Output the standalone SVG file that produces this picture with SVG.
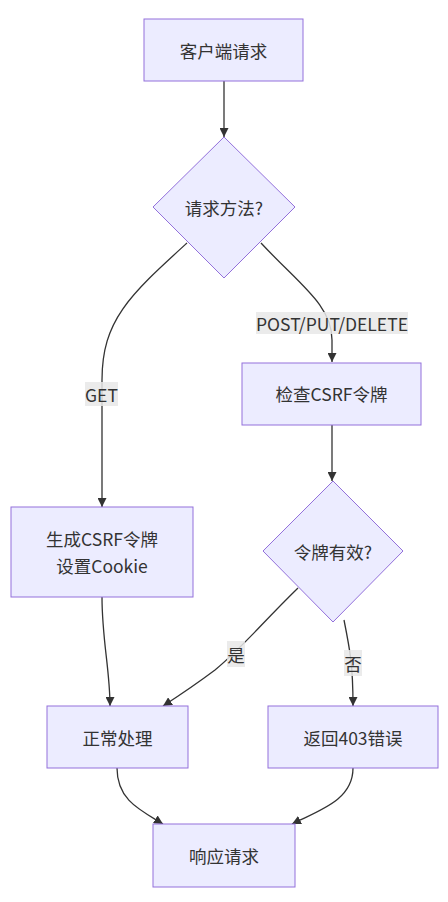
<svg xmlns="http://www.w3.org/2000/svg" width="448" height="902" viewBox="0 0 448 902">
<style>
.node rect,.node polygon{fill:#ECECFF;stroke:#9370DB;stroke-width:1}
.node text{font-family:"Noto Sans CJK SC","Liberation Sans",sans-serif;font-size:17.5px;fill:#333;text-anchor:middle;dominant-baseline:central}
.edge{fill:none;stroke:#333;stroke-width:1.3}
.lbl rect{fill:#e8e8e8;opacity:0.85}
.lbl text{font-family:"Noto Sans CJK SC","Liberation Sans",sans-serif;font-size:17.5px;fill:#333;text-anchor:middle;dominant-baseline:central}
</style>
<defs>
<marker id="arr" viewBox="0 0 10 10" refX="10" refY="5" markerWidth="9" markerHeight="9" markerUnits="userSpaceOnUse" orient="auto">
<path d="M0,0 L10,5 L0,10 z" fill="#333"/>
</marker>
</defs>
<rect width="448" height="902" fill="#fff"/>
<g id="edges">
<path class="edge" d="M224,81 L224,137" marker-end="url(#arr)"/>
<path class="edge" d="M187,243 C130,295 102,320 102,380 L102,507" marker-end="url(#arr)"/>
<path class="edge" d="M261,243 C300,285 332,305 332,340 L332,362" marker-end="url(#arr)"/>
<path class="edge" d="M332,425 L332,481" marker-end="url(#arr)"/>
<path class="edge" d="M102,597 C102,640 110,670 110,706" marker-end="url(#arr)"/>
<path class="edge" d="M298,588 C260,625 245,645 215,670 C195,685 180,695 163,706" marker-end="url(#arr)"/>
<path class="edge" d="M344,620 C350,650 353,665 353,706" marker-end="url(#arr)"/>
<path class="edge" d="M117,768 C117,800 140,810 163,824" marker-end="url(#arr)"/>
<path class="edge" d="M353,768 C353,800 320,810 292,824" marker-end="url(#arr)"/>
</g>
<g id="labels">
<g class="lbl"><rect x="256" y="312" width="152" height="22"/><text x="332" y="323">POST/PUT/DELETE</text></g>
<g class="lbl"><rect x="85" y="382" width="33" height="24"/><text x="101.5" y="394">GET</text></g>
<g class="lbl"><rect x="227" y="641" width="18" height="26"/><text x="236" y="654">是</text></g>
<g class="lbl"><rect x="344" y="650" width="18" height="26"/><text x="353" y="663">否</text></g>
</g>
<g id="n1" class="node"><rect x="144" y="19" width="159" height="62"/><text x="223.5" y="50">客户端请求</text></g>
<g id="n2" class="node"><polygon points="224,137 295,207 224,278 153,207"/><text x="224" y="207">请求方法?</text></g>
<g id="n3" class="node"><rect x="242" y="363" width="179" height="62"/><text x="331.5" y="393">检查CSRF令牌</text></g>
<g id="n4" class="node"><rect x="11" y="507" width="182" height="90"/><text x="102" y="538">生成CSRF令牌</text><text x="102" y="565">设置Cookie</text></g>
<g id="n5" class="node"><polygon points="333,481 403,551 333,622 263,551"/><text x="333" y="551">令牌有效?</text></g>
<g id="n6" class="node"><rect x="47" y="706" width="141" height="62"/><text x="117.5" y="737">正常处理</text></g>
<g id="n7" class="node"><rect x="268" y="706" width="170" height="62"/><text x="353" y="737">返回403错误</text></g>
<g id="n8" class="node"><rect x="153" y="824" width="142" height="63"/><text x="224" y="855">响应请求</text></g>
</svg>
